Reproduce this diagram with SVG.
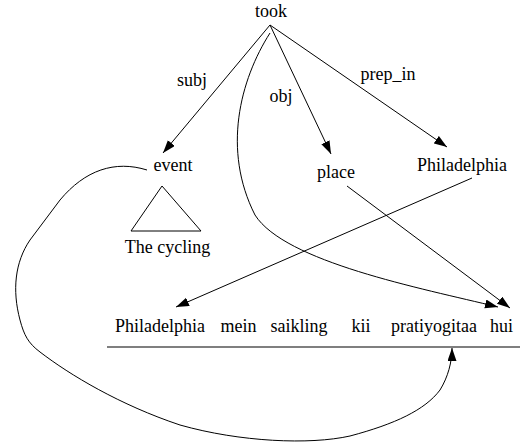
<svg xmlns="http://www.w3.org/2000/svg" width="527" height="444" viewBox="0 0 527 444">
<style>
text{font-family:"Liberation Serif","DejaVu Serif","Noto Serif",serif;font-size:18px;fill:#000;text-anchor:middle}
.e{fill:none;stroke:#000;stroke-width:1}
</style>
<defs>
<marker id="ah" markerUnits="userSpaceOnUse" markerWidth="14" markerHeight="10" refX="13" refY="4.5" orient="auto">
<path d="M0,0 L13,4.5 L0,9 z" fill="#000"/>
</marker>
</defs>
<rect width="527" height="444" fill="#fff"/>
<g id="connectors">
<path class="e" d="M270,25 L163,153" marker-end="url(#ah)"/>
<path class="e" d="M270,25 L331,154" marker-end="url(#ah)"/>
<path class="e" d="M270,25 L447,147" marker-end="url(#ah)"/>
<path class="e" d="M270,33 C240,80 222,150 255,215 C285,262 420,288 498,307" marker-end="url(#ah)"/>
<path class="e" d="M347,186 L510,308" marker-end="url(#ah)"/>
<path class="e" d="M472,178 L176,307" marker-end="url(#ah)"/>
<path class="e" d="M147,170 C115,160 85,170 60,200 L30,240 C15,262 12,290 20,320 C24,335 28,343 40,352 C70,375 120,405 180,425 C240,442 310,445 350,436 C395,424 425,410 440,390 C448,377 452,362 452,348" marker-end="url(#ah)"/>
<text x="192" y="86">subj</text>
<text x="281" y="102">obj</text>
<text x="388" y="80">prep_in</text>
</g>
<g id="took"><text x="271" y="17">took</text></g>
<g id="event"><text x="173" y="171">event</text></g>
<g id="triangle"><path d="M162,186 L131,231 L201,231 Z" fill="none" stroke="#000" stroke-width="1"/></g>
<g id="thecycling"><text x="167.5" y="253">The cycling</text></g>
<g id="place"><text x="336" y="178">place</text></g>
<g id="philadelphia_top"><text x="462" y="171">Philadelphia</text></g>
<g id="sentence">
<text x="160" y="332">Philadelphia</text>
<text x="238.5" y="332">mein</text>
<text x="299" y="332">saikling</text>
<text x="361" y="332">kii</text>
<text x="434" y="332">pratiyogitaa</text>
<text x="501.5" y="332">hui</text>
<line x1="107" y1="347" x2="520" y2="347" stroke="#555" stroke-width="1.3"/>
</g>
</svg>
